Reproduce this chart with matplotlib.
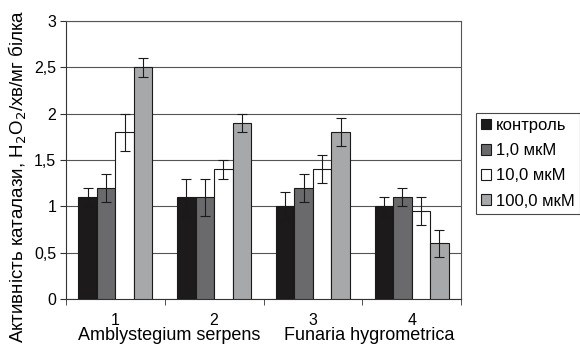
import numpy as np
import matplotlib.pyplot as plt

plt.rcParams['font.family'] = ['Liberation Sans', 'DejaVu Sans']

groups = ["1", "2", "3", "4"]
species = ["Amblystegium serpens", "Funaria hygrometrica"]
species_pos = [0.55, 2.57]
series = ["контроль", "1,0 мкМ", "10,0 мкМ", "100,0 мкМ"]
colors = ["#1c1a1b", "#6a6a6c", "#ffffff", "#a7a8aa"]

values = [
    [1.1, 1.1, 1.0, 1.0],
    [1.2, 1.1, 1.2, 1.1],
    [1.8, 1.4, 1.4, 0.95],
    [2.5, 1.9, 1.8, 0.6],
]
errors = [
    [0.1, 0.2, 0.15, 0.1],
    [0.15, 0.2, 0.15, 0.1],
    [0.2, 0.1, 0.15, 0.15],
    [0.1, 0.1, 0.15, 0.15],
]

fig = plt.figure(figsize=(5.8, 3.45), dpi=100)
ax = fig.add_axes([66 / 580, 1 - 299 / 345, (461 - 66) / 580, (299 - 21) / 345])

x = np.arange(len(groups))
w = 0.187
for i, (name, c) in enumerate(zip(series, colors)):
    pos = x + (i - 1.5) * w
    ax.bar(pos, values[i], w, color=c, edgecolor="#1a1a1a", linewidth=0.8,
           label=name, zorder=3)
    ax.errorbar(pos, values[i], yerr=errors[i], fmt="none", ecolor="#1a1a1a",
                elinewidth=0.8, capsize=3.3, capthick=0.8, zorder=4)

ax.set_xlim(-0.5, 3.5)
ax.set_ylim(0, 3)
ax.set_yticks(np.arange(0, 3.01, 0.5))
ax.set_yticklabels(["0", "0,5", "1", "1,5", "2", "2,5", "3"], fontsize=11.5)
ax.yaxis.grid(True, color="#555555", linewidth=0.8, zorder=0)
ax.set_axisbelow(True)

# group numbers under bars, category boundary ticks like in Excel
ax.set_xticks(x)
ax.set_xticklabels(groups, fontsize=11.5)
ax.tick_params(axis="x", length=0, pad=10)
ax.set_xticks(np.arange(-0.5, 3.6, 1), minor=True)
ax.tick_params(axis="x", which="minor", length=4, direction="out", color="#333333")
ax.tick_params(axis="y", length=4, direction="out", color="#333333", pad=3)

for s in ["top", "right"]:
    ax.spines[s].set_color("#555555")
for s in ["left", "bottom"]:
    ax.spines[s].set_color("#333333")

for name, p in zip(species, species_pos):
    ax.text(p, -0.442, name, ha="center", va="baseline", fontsize=13)

ax.set_ylabel("Активність каталази, H$_2$O$_2$/хв/мг білка", fontsize=13.5)
ax.yaxis.set_label_coords(-0.121, 0.442)
ax.yaxis.label.set_va("center")

leg = ax.legend(loc="upper left", bbox_to_anchor=(476 / 580, 1 - 113 / 345),
                bbox_transform=fig.transFigure, fontsize=12, frameon=True,
                fancybox=False, handlelength=0.6, handleheight=0.6,
                handletextpad=0.3, borderpad=0.3, labelspacing=0.61,
                borderaxespad=0)
leg.get_frame().set_edgecolor("#1a1a1a")
leg.get_frame().set_linewidth(0.8)

fig.savefig("out.png", dpi=100)
